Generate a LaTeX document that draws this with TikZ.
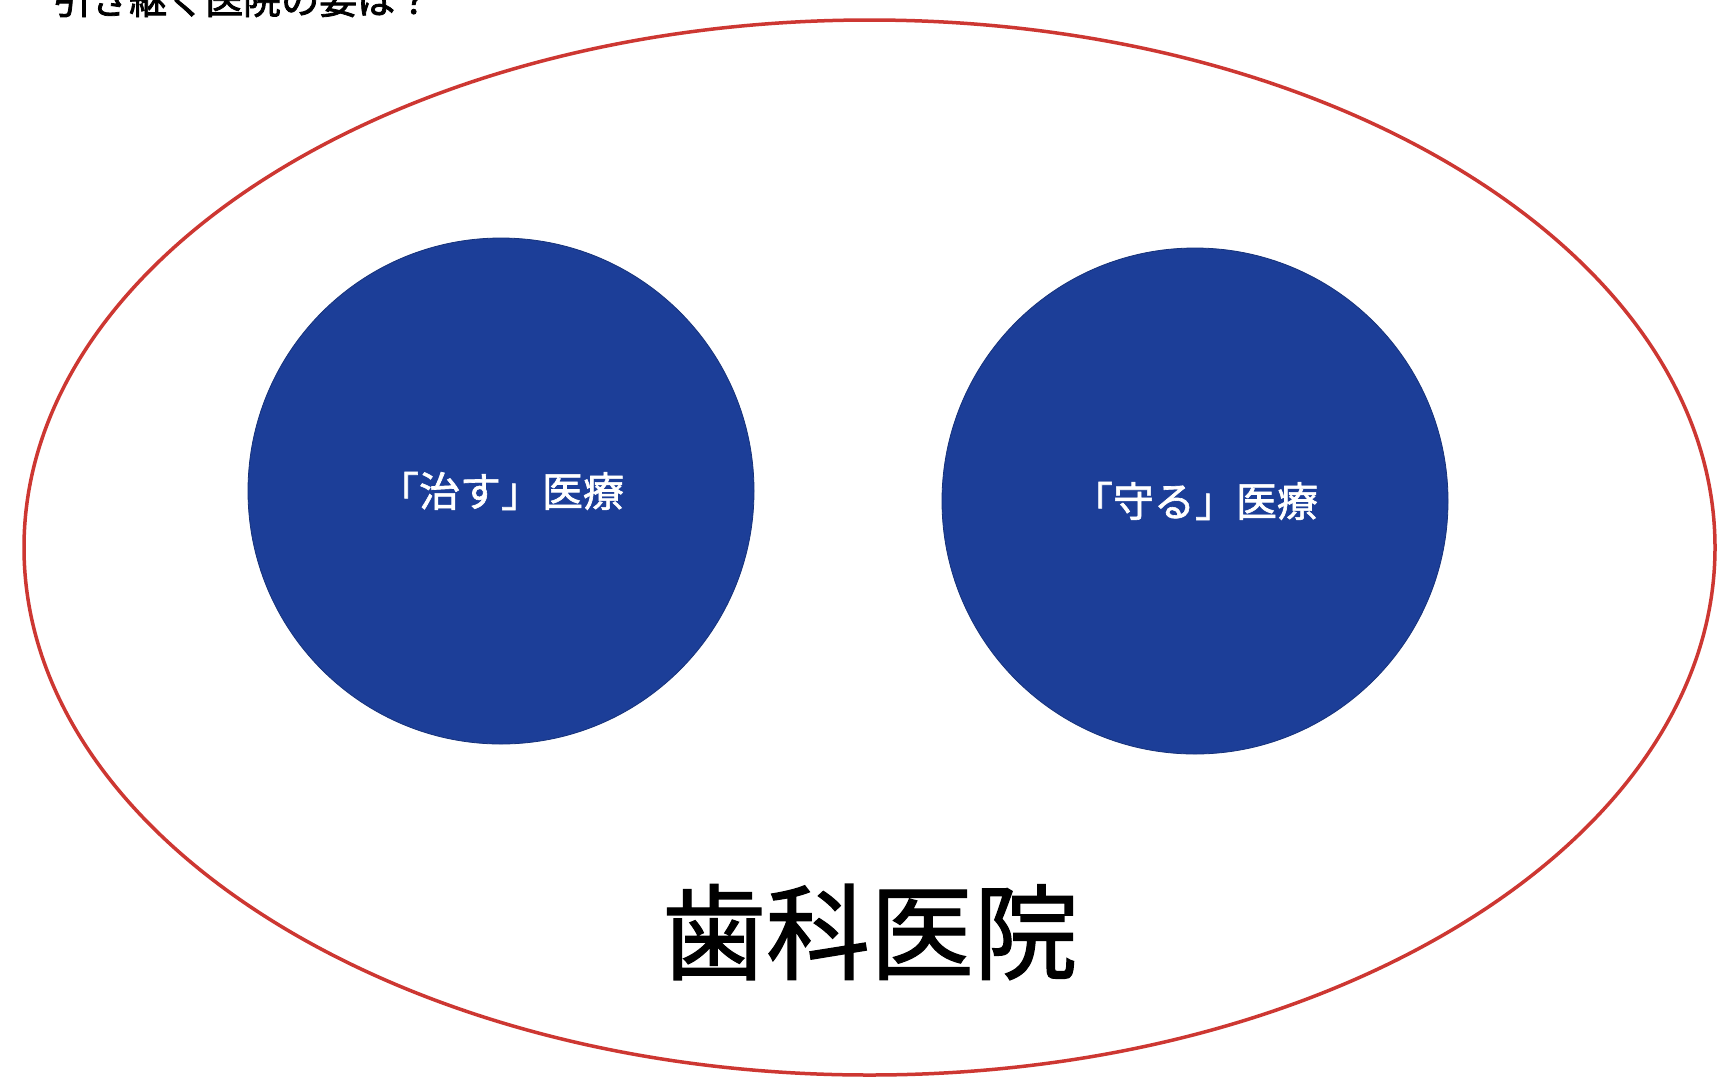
\documentclass[tikz,border=0pt]{standalone}
\usepackage{fontspec}
\usetikzlibrary{shapes.geometric}
\newfontfamily\cjk{Noto Sans CJK JP}[FakeBold=1.2]
\newfontfamily\cjkm{Noto Sans CJK JP}[FakeBold=1.5]
\newfontfamily\cjkb{Noto Sans CJK JP}[FakeBold=2]
\definecolor{dblue}{RGB}{28,62,152}
\definecolor{ered}{RGB}{205,55,50}
\begin{document}
\begin{tikzpicture}[x=1pt,y=-1pt,
  medcircle/.style={circle,fill=dblue,draw=dblue!80!black,line width=0.8pt,minimum size=506pt,inner sep=0pt,text=white,font=\cjkm\fontsize{41}{41}\selectfont},
]
\useasboundingbox (0,0) rectangle (1722,1080);
\clip (0,0) rectangle (1722,1080);
\fill[white] (0,0) rectangle (1722,1080);
\node[inner sep=0pt,anchor=base west,font=\cjkb\fontsize{38}{38}\selectfont] (title) at (53,14) {引き継ぐ医院の要は？};
\node[draw=ered,line width=3.5pt,ellipse,minimum width=1691pt,minimum height=1055pt,inner sep=0pt] (clinic) at (869.5,547.5) {};
\node[medcircle] (cure) at (501,491) {「治す」医療};
\node[medcircle] (protect) at (1195,501) {「守る」医療};
\node[inner sep=0pt,font=\cjk\fontsize{104}{104}\selectfont] (name) at (870,932) {歯科医院};
\end{tikzpicture}
\end{document}
